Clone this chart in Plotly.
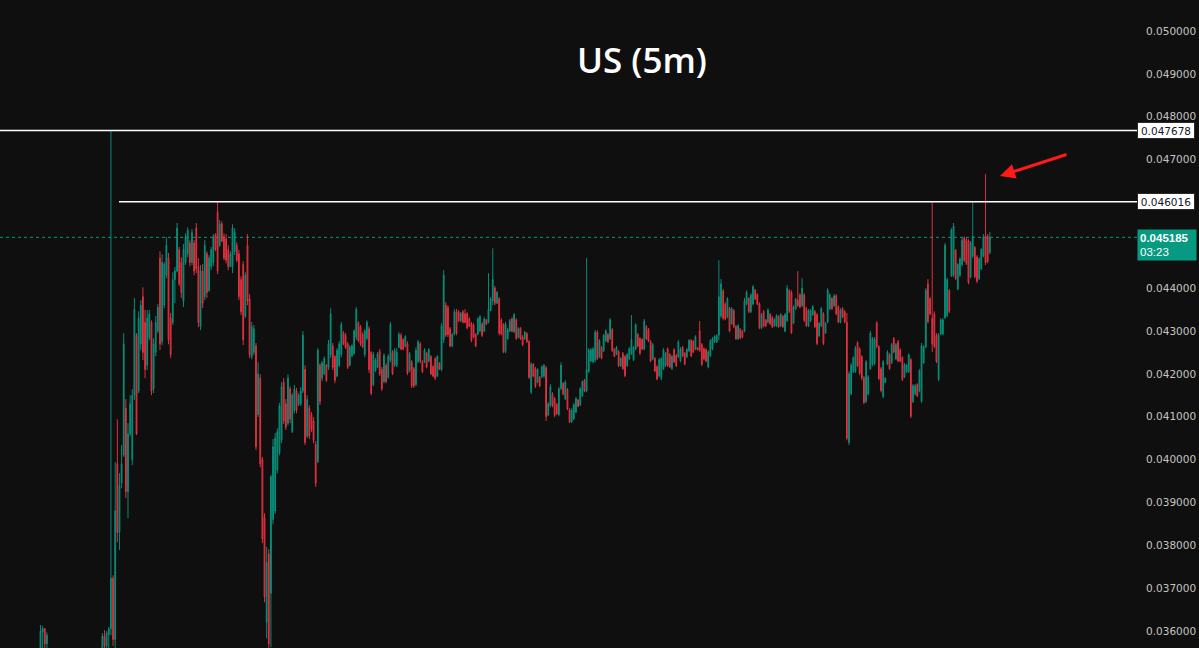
import plotly.graph_objects as go

# Prices in units of 1e-5 (e.g. 4518.5 -> 0.045185)
bars = [-33, -32, -31, -30, -4, -3, -2, -1] + list(range(413))

opens = [
    3555, 3598, 3605, 3570, 3560, 3588, 3565, 3592, 3605, 3723,
    3580, 3990, 3830, 3945, 4010, 4120, 3925, 4060, 4000, 4150,
    4290, 4160, 4270, 4380, 4320, 4220, 4285, 4320, 4165, 4250,
    4300, 4470, 4275, 4360, 4430, 4470, 4330, 4320, 4420, 4440,
    4490, 4460, 4370, 4460, 4480, 4505, 4460, 4505, 4540, 4450,
    4310, 4440, 4380, 4480, 4395, 4450, 4460, 4525, 4577, 4500,
    4550, 4520, 4515, 4490, 4450, 4450, 4485, 4500, 4480, 4420,
    4455, 4335, 4500, 4375, 4240, 4250, 4265, 4105, 4190, 4000,
    3865, 3620, 3780, 3688, 3860, 3880, 3975, 4015, 4045, 4180,
    4130, 4085, 4165, 4065, 4115, 4160, 4128, 4130, 4160, 4210,
    4055, 4120, 4105, 4090, 4035, 3995, 4220, 4190, 4200, 4220,
    4215, 4245, 4265, 4240, 4195, 4220, 4245, 4295, 4290, 4270,
    4220, 4242, 4248, 4285, 4318, 4310, 4292, 4245, 4283, 4305,
    4250, 4175, 4207, 4216, 4252, 4210, 4182, 4220, 4192, 4232,
    4250, 4220, 4220, 4262, 4290, 4280, 4264, 4270, 4208, 4228,
    4212, 4175, 4228, 4270, 4228, 4228, 4248, 4230, 4240, 4217,
    4235, 4195, 4225, 4210, 4280, 4360, 4355, 4305, 4265, 4293,
    4345, 4345, 4324, 4345, 4340, 4340, 4328, 4316, 4314, 4292,
    4293, 4300, 4316, 4300, 4326, 4320, 4348, 4370, 4400, 4365,
    4375, 4325, 4315, 4252, 4282, 4300, 4328, 4298, 4326, 4285,
    4306, 4286, 4282, 4294, 4275, 4157, 4222, 4212, 4181, 4192,
    4193, 4195, 4214, 4104, 4126, 4152, 4142, 4128, 4105, 4166,
    4178, 4142, 4163, 4116, 4088, 4095, 4111, 4139, 4128, 4149,
    4185, 4160, 4206, 4230, 4228, 4232, 4297, 4240, 4262, 4254,
    4277, 4292, 4282, 4303, 4257, 4246, 4252, 4219, 4247, 4240,
    4219, 4235, 4247, 4233, 4258, 4292, 4282, 4280, 4258, 4310,
    4303, 4275, 4235, 4236, 4216, 4195, 4190, 4212, 4219, 4258,
    4245, 4212, 4256, 4243, 4240, 4230, 4262, 4248, 4240, 4254,
    4278, 4276, 4258, 4261, 4300, 4268, 4258, 4256, 4216, 4242,
    4258, 4275, 4274, 4290, 4335, 4393, 4362, 4333, 4352, 4317,
    4347, 4310, 4282, 4304, 4300, 4300, 4363, 4376, 4345, 4363,
    4395, 4385, 4363, 4307, 4345, 4325, 4321, 4339, 4331, 4312,
    4312, 4334, 4312, 4334, 4300, 4324, 4394, 4390, 4319, 4352,
    4372, 4384, 4359, 4384, 4352, 4312, 4324, 4338, 4345, 4338,
    4289, 4312, 4340, 4296, 4321, 4352, 4376, 4359, 4382, 4356,
    4321, 4352, 4345, 4320, 4040, 4153, 4205, 4206, 4272, 4258,
    4240, 4190, 4136, 4153, 4212, 4222, 4224, 4318, 4263, 4212,
    4147, 4180, 4223, 4245, 4226, 4282, 4235, 4275, 4256, 4238,
    4193, 4205, 4205, 4233, 4135, 4153, 4175, 4160, 4136, 4226,
    4263, 4410, 4375, 4330, 4340, 4290, 4187, 4293, 4293, 4331,
    4336, 4394, 4428, 4430, 4488, 4398, 4430, 4455, 4517, 4513,
    4510, 4426, 4475, 4495, 4473, 4422, 4445, 4475, 4520, 4522, 4483,
]

highs = [
    3614, 3612, 3607, 3597, 3595, 3602, 3600, 3609, 4767.8, 3730,
    3994, 4094, 3968, 4034, 4295, 4141, 4085, 4150, 4164, 4377,
    4295, 4346, 4372, 4402, 4349, 4349, 4349, 4325, 4283, 4335,
    4363, 4486, 4479, 4461, 4519, 4482, 4342, 4437, 4449, 4552,
    4496, 4472, 4503, 4528, 4542, 4512, 4538, 4512, 4552, 4470,
    4454, 4456, 4512, 4486, 4477, 4496, 4526, 4528, 4601.6, 4559,
    4556, 4528, 4526, 4500, 4486, 4549, 4540, 4507, 4489, 4428,
    4463, 4437, 4526, 4386, 4321, 4314, 4272, 4227, 4199, 4006,
    3875, 3796, 3791, 3964, 4048, 4062, 4073, 4132, 4181, 4190,
    4141, 4199, 4171, 4155, 4174, 4167, 4155, 4169, 4300, 4220,
    4150, 4127, 4111, 4099, 4043, 4260, 4225, 4230, 4241, 4223,
    4279, 4353, 4272, 4244, 4260, 4276, 4321, 4300, 4295, 4274,
    4267, 4269, 4304, 4356, 4323, 4314, 4297, 4304, 4325, 4311,
    4253, 4251, 4237, 4251, 4258, 4216, 4248, 4225, 4246, 4321,
    4255, 4260, 4260, 4297, 4295, 4283, 4290, 4276, 4251, 4232,
    4216, 4262, 4279, 4274, 4232, 4260, 4251, 4260, 4244, 4220,
    4239, 4244, 4227, 4318, 4442, 4367, 4360, 4309, 4295, 4351,
    4351, 4349, 4344, 4349, 4351, 4344, 4332, 4321, 4318, 4295,
    4332, 4337, 4321, 4332, 4328, 4435, 4379, 4493, 4405, 4393,
    4379, 4330, 4318, 4321, 4307, 4328, 4332, 4342, 4330, 4309,
    4309, 4290, 4300, 4297, 4279, 4227, 4225, 4216, 4213, 4195,
    4220, 4223, 4218, 4134, 4176, 4157, 4146, 4132, 4169, 4227,
    4181, 4185, 4167, 4120, 4120, 4132, 4146, 4141, 4169, 4185,
    4188, 4470, 4260, 4260, 4262, 4302, 4302, 4281, 4265, 4293,
    4304, 4295, 4330, 4307, 4260, 4265, 4255, 4239, 4251, 4244,
    4248, 4262, 4337, 4265, 4318, 4295, 4286, 4283, 4328, 4314,
    4307, 4279, 4272, 4239, 4220, 4237, 4239, 4260, 4251, 4262,
    4248, 4244, 4260, 4246, 4279, 4262, 4265, 4251, 4260, 4281,
    4281, 4279, 4290, 4262, 4323, 4272, 4262, 4260, 4255, 4281,
    4286, 4290, 4292, 4465, 4421, 4398, 4367, 4379, 4356, 4356,
    4351, 4314, 4316, 4307, 4302, 4377, 4395, 4379, 4388, 4407,
    4398, 4388, 4367, 4342, 4349, 4328, 4353, 4342, 4335, 4330,
    4339, 4337, 4342, 4337, 4342, 4407, 4398, 4395, 4360, 4377,
    4440, 4388, 4423, 4388, 4356, 4351, 4351, 4360, 4349, 4342,
    4321, 4356, 4344, 4321, 4400, 4388, 4379, 4386, 4386, 4360,
    4353, 4356, 4349, 4342, 4206, 4225, 4241, 4265, 4276, 4262,
    4244, 4195, 4232, 4197, 4300, 4286, 4286, 4323, 4267, 4216,
    4232, 4192, 4255, 4248, 4272, 4286, 4272, 4279, 4260, 4241,
    4225, 4223, 4248, 4237, 4176, 4176, 4178, 4211, 4272, 4267,
    4400, 4421, 4379, 4601.6, 4346, 4295, 4295, 4330, 4330, 4505,
    4424, 4398, 4540, 4552, 4491, 4458, 4472, 4517, 4521, 4517,
    4514, 4510, 4601.6, 4498, 4477, 4472, 4493, 4526, 4666, 4526, 4531,
]

lows = [
    3540, 3545, 3545, 3545, 3540, 3545, 3545, 3555, 3590, 3565,
    3560, 3807, 3789, 3933, 4006, 3910, 3863, 4055, 3987, 4139,
    4057, 4155, 4255, 4232, 4190, 4209, 4279, 4150, 4155, 4241,
    4295, 4255, 4267, 4353, 4423, 4269, 4237, 4314, 4365, 4437,
    4405, 4377, 4356, 4454, 4472, 4451, 4454, 4430, 4435, 4309,
    4302, 4353, 4372, 4377, 4391, 4442, 4451, 4486, 4433, 4496,
    4507, 4465, 4458, 4442, 4449, 4435, 4477, 4461, 4372, 4337,
    4267, 4330, 4360, 4237, 4234, 4244, 4022, 4099, 3982, 3805,
    3667, 3583, 3560, 3562, 3849, 3873, 3968, 4010, 4038, 4083,
    4069, 4080, 4085, 4062, 4108, 4108, 4125, 4125, 4155, 4034,
    4050, 4048, 4064, 4038, 3936, 3992, 4127, 4183, 4197, 4181,
    4209, 4237, 4209, 4178, 4192, 4216, 4239, 4267, 4258, 4211,
    4218, 4239, 4244, 4279, 4274, 4265, 4260, 4239, 4279, 4202,
    4150, 4171, 4204, 4213, 4195, 4160, 4178, 4178, 4188, 4227,
    4197, 4216, 4216, 4260, 4255, 4255, 4262, 4197, 4204, 4167,
    4167, 4171, 4225, 4225, 4202, 4225, 4213, 4227, 4197, 4192,
    4185, 4192, 4209, 4206, 4272, 4286, 4286, 4262, 4262, 4290,
    4290, 4321, 4321, 4318, 4318, 4304, 4309, 4274, 4283, 4262,
    4290, 4297, 4286, 4297, 4314, 4318, 4346, 4360, 4360, 4363,
    4290, 4290, 4248, 4248, 4279, 4297, 4297, 4295, 4279, 4283,
    4279, 4265, 4279, 4272, 4188, 4153, 4192, 4167, 4178, 4169,
    4190, 4190, 4090, 4101, 4122, 4122, 4099, 4104, 4101, 4162,
    4150, 4139, 4115, 4085, 4085, 4092, 4108, 4122, 4125, 4146,
    4157, 4157, 4202, 4227, 4225, 4227, 4232, 4237, 4234, 4251,
    4274, 4272, 4279, 4251, 4239, 4244, 4216, 4216, 4209, 4192,
    4216, 4232, 4244, 4230, 4255, 4262, 4244, 4255, 4255, 4279,
    4274, 4227, 4232, 4204, 4185, 4192, 4185, 4209, 4216, 4216,
    4213, 4209, 4225, 4216, 4237, 4227, 4239, 4220, 4237, 4251,
    4239, 4248, 4255, 4255, 4251, 4218, 4232, 4227, 4213, 4239,
    4255, 4272, 4272, 4279, 4330, 4325, 4325, 4330, 4297, 4314,
    4307, 4279, 4279, 4281, 4283, 4297, 4360, 4342, 4342, 4360,
    4372, 4360, 4304, 4304, 4309, 4309, 4318, 4314, 4307, 4309,
    4309, 4307, 4309, 4307, 4297, 4321, 4342, 4293, 4316, 4349,
    4356, 4353, 4356, 4321, 4309, 4309, 4321, 4335, 4307, 4267,
    4286, 4309, 4267, 4293, 4318, 4349, 4349, 4356, 4337, 4318,
    4318, 4330, 4318, 4045, 4034, 4150, 4202, 4202, 4216, 4197,
    4185, 4129, 4132, 4150, 4209, 4218, 4220, 4260, 4185, 4157,
    4143, 4178, 4220, 4209, 4223, 4248, 4232, 4227, 4227, 4183,
    4190, 4202, 4202, 4097, 4132, 4150, 4146, 4157, 4132, 4223,
    4260, 4318, 4337, 4251, 4260, 4225, 4183, 4290, 4290, 4328,
    4332, 4342, 4426, 4426, 4419, 4395, 4426, 4451, 4461, 4454,
    4409, 4423, 4470, 4423, 4412, 4419, 4442, 4472, 4454, 4458, 4479,
]

closes = [
    3600, 3606, 3570, 3590, 3588, 3565, 3595, 3605, 3723, 3580,
    3880, 3830, 3940, 3990, 4270, 3925, 4060, 4130, 4150, 4350,
    4060, 4330, 4360, 4250, 4210, 4330, 4340, 4160, 4270, 4320,
    4355, 4270, 4460, 4455, 4500, 4280, 4245, 4420, 4440, 4540,
    4410, 4390, 4490, 4520, 4535, 4460, 4530, 4440, 4445, 4320,
    4440, 4365, 4500, 4390, 4470, 4490, 4520, 4490, 4440, 4550,
    4510, 4470, 4465, 4450, 4480, 4540, 4530, 4465, 4380, 4345,
    4280, 4430, 4370, 4245, 4310, 4305, 4030, 4200, 3990, 3815,
    3680, 3760, 3570, 3960, 4030, 4050, 4065, 4125, 4170, 4090,
    4075, 4190, 4095, 4150, 4165, 4115, 4150, 4160, 4290, 4040,
    4140, 4055, 4070, 4045, 3945, 4255, 4135, 4225, 4235, 4185,
    4270, 4340, 4215, 4185, 4255, 4270, 4315, 4270, 4262, 4215,
    4262, 4265, 4300, 4350, 4278, 4270, 4263, 4300, 4320, 4210,
    4155, 4245, 4232, 4246, 4200, 4165, 4243, 4182, 4240, 4315,
    4200, 4255, 4250, 4292, 4258, 4258, 4287, 4202, 4246, 4172,
    4172, 4255, 4275, 4230, 4205, 4255, 4216, 4257, 4200, 4195,
    4190, 4240, 4211, 4312, 4430, 4290, 4292, 4265, 4292, 4345,
    4295, 4324, 4341, 4320, 4320, 4307, 4311, 4278, 4286, 4265,
    4328, 4333, 4290, 4328, 4316, 4350, 4375, 4420, 4365, 4390,
    4295, 4293, 4252, 4316, 4303, 4324, 4300, 4338, 4283, 4306,
    4282, 4268, 4297, 4275, 4192, 4222, 4195, 4171, 4210, 4172,
    4216, 4220, 4100, 4130, 4170, 4126, 4103, 4107, 4165, 4220,
    4153, 4180, 4118, 4088, 4115, 4128, 4142, 4124, 4165, 4181,
    4160, 4210, 4255, 4256, 4258, 4297, 4236, 4277, 4237, 4290,
    4300, 4275, 4326, 4255, 4241, 4262, 4219, 4236, 4212, 4196,
    4245, 4259, 4280, 4262, 4314, 4265, 4248, 4258, 4323, 4282,
    4277, 4230, 4268, 4207, 4188, 4233, 4235, 4256, 4247, 4220,
    4216, 4240, 4228, 4219, 4275, 4258, 4242, 4223, 4257, 4278,
    4242, 4251, 4286, 4256, 4255, 4222, 4235, 4230, 4251, 4277,
    4282, 4287, 4290, 4380, 4410, 4330, 4328, 4375, 4300, 4352,
    4310, 4282, 4312, 4284, 4286, 4370, 4390, 4345, 4384, 4403,
    4375, 4363, 4308, 4338, 4312, 4312, 4349, 4317, 4310, 4327,
    4335, 4310, 4338, 4310, 4338, 4400, 4346, 4296, 4356, 4374,
    4360, 4356, 4400, 4325, 4312, 4347, 4347, 4357, 4310, 4271,
    4318, 4352, 4271, 4318, 4395, 4384, 4352, 4382, 4340, 4321,
    4349, 4333, 4321, 4050, 4200, 4220, 4237, 4260, 4220, 4202,
    4190, 4133, 4228, 4193, 4295, 4282, 4280, 4264, 4189, 4161,
    4228, 4190, 4251, 4212, 4268, 4251, 4268, 4230, 4230, 4187,
    4221, 4220, 4244, 4101, 4172, 4172, 4149, 4207, 4265, 4263,
    4395, 4322, 4340, 4270, 4264, 4229, 4291, 4326, 4326, 4500,
    4420, 4346, 4536, 4545, 4422, 4455, 4468, 4512, 4465, 4458,
    4413, 4505, 4520, 4427, 4416, 4468, 4490, 4520, 4460, 4462, 4518.5,
]

level_top = 0.047678
level_mid = 0.046016
last_price = 0.045185
countdown = "03:23"
title_text = "US (5m)"
# 0.045 and 0.046 sit under the price labels in the reference, so they are not shown
tick_vals = [0.036, 0.037, 0.038, 0.039, 0.040, 0.041, 0.042, 0.043,
             0.044, 0.047, 0.048, 0.049, 0.050]

assert len(bars) == len(opens) == len(highs) == len(lows) == len(closes), (
    len(bars), len(opens), len(highs), len(lows), len(closes))

S = 1e-5
o = [v * S for v in opens]
h = [v * S for v in highs]
l = [v * S for v in lows]
c = [v * S for v in closes]

UP = "#089981"
DOWN = "#f23645"
BG = "#0f0f0f"

fig = go.Figure(go.Candlestick(
    x=bars, open=o, high=h, low=l, close=c,
    increasing=dict(line=dict(color=UP, width=0.9), fillcolor="#0b5e52"),
    decreasing=dict(line=dict(color=DOWN, width=0.9), fillcolor="#8e0e18"),
    whiskerwidth=0, hoverinfo="skip",
))

W, H = 1199, 648
R = 62
PW = W - R

fig.update_layout(
    width=W, height=H,
    paper_bgcolor=BG, plot_bgcolor=BG,
    margin=dict(l=0, r=R, t=0, b=0),
    showlegend=False,
    boxgap=0.45,
    xaxis=dict(visible=False, range=[-52, 481], rangeslider=dict(visible=False),
               showgrid=False, zeroline=False),
    yaxis=dict(side="right", range=[0.035603, 0.050723], showgrid=False,
               zeroline=False, tickvals=tick_vals, tickformat=".6f",
               ticks="", ticklabelstandoff=8,
               tickfont=dict(family="DejaVu Sans", size=10.5, color="#c4c4c4"),
               showline=False),
    font=dict(family="DejaVu Sans"),
)

fig.add_shape(type="line", xref="paper", yref="y", x0=0, x1=1,
              y0=last_price, y1=last_price,
              line=dict(color=UP, width=1, dash="dot"), layer="below")
fig.add_shape(type="line", xref="paper", yref="y", x0=0, x1=1,
              y0=level_top, y1=level_top, line=dict(color="#ffffff", width=1.5))
fig.add_shape(type="line", xref="paper", yref="y", x0=119 / PW, x1=1,
              y0=level_mid, y1=level_mid, line=dict(color="#ffffff", width=1.5))

for lv in (level_top, level_mid):
    fig.add_annotation(xref="paper", yref="y", x=1, y=lv, xanchor="left",
                       yanchor="middle", text=f"{lv:.6f}", showarrow=False,
                       bgcolor="#ffffff", bordercolor="#2a2a2a", borderwidth=1,
                       borderpad=1, width=54, height=13,
                       font=dict(family="DejaVu Sans", size=10.5, color="#131722"))

fig.add_annotation(xref="paper", yref="paper", x=1, y=1 - 229 / H,
                   xanchor="left", yanchor="top",
                   text=f"<b>{last_price:.6f}</b><br>{countdown}", showarrow=False,
                   align="left", bgcolor=UP, borderpad=2, width=54, height=26,
                   font=dict(family="Liberation Sans", size=11.5, color="#ffffff"))

fig.add_annotation(xref="paper", yref="paper", x=1000 / PW, y=1 - 176 / H,
                   ax=68, ay=-22, text="", showarrow=True, arrowhead=2,
                   arrowsize=1, arrowwidth=3, arrowcolor="#ff1a1a", standoff=0)

fig.add_annotation(xref="paper", yref="paper", x=642 / PW, y=1 - 60 / H,
                   xanchor="center", yanchor="middle", text=title_text,
                   showarrow=False,
                   font=dict(family="Open Sans", size=35, color="#ffffff", weight=600))

fig.write_html("out.html")
